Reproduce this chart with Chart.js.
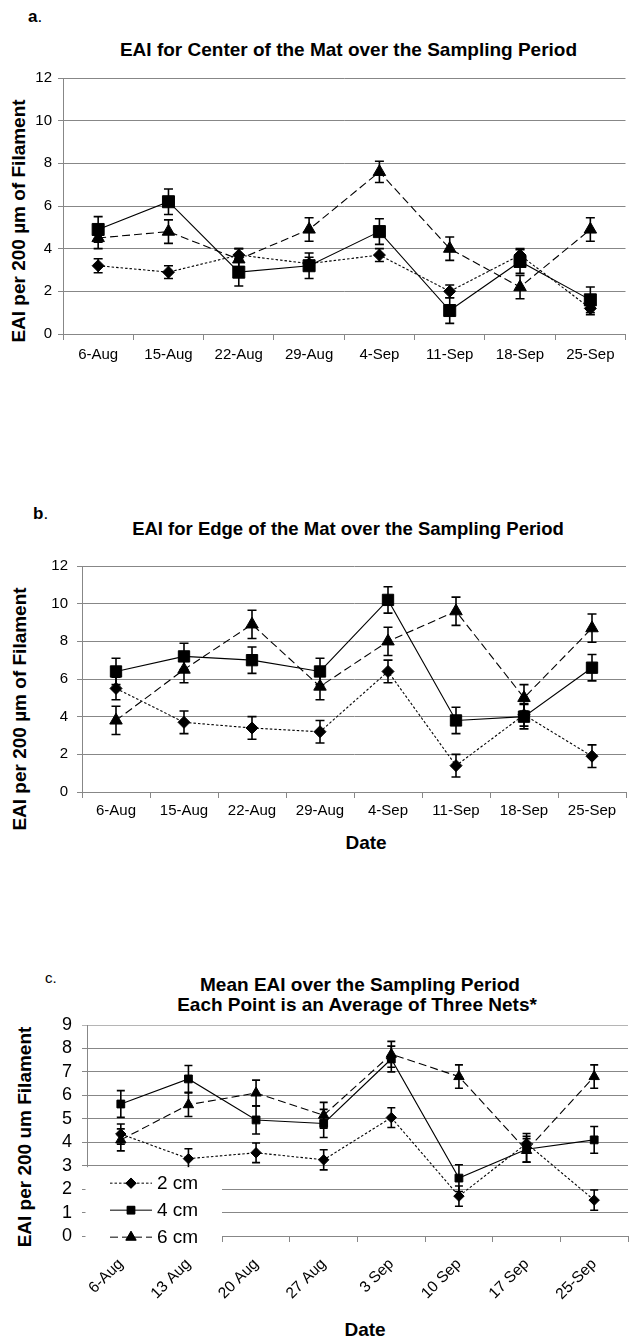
<!DOCTYPE html>
<html><head><meta charset="utf-8">
<script src="https://cdn.jsdelivr.net/npm/chart.js@4.4.1/dist/chart.umd.min.js"></script>
<style>
html,body{margin:0;padding:0;background:#fff;}
body{width:635px;height:1339px;position:relative;overflow:hidden;font-family:"Liberation Sans",Arial,sans-serif;color:#000;}
canvas{position:absolute;left:0;}
.t{position:absolute;white-space:nowrap;line-height:1;transform:translate(-50%,-50%);}
.lbl{position:absolute;white-space:nowrap;line-height:1;transform:translateY(-50%);}
.b{font-weight:bold;}
.yt{position:absolute;white-space:nowrap;line-height:1;font-weight:bold;font-size:19px;transform:translate(-50%,-50%) rotate(-90deg);}
</style></head>
<body>
<div class="lbl b" style="left:28px;top:15.5px;font-size:17px;">a<span style="font-weight:normal">.</span></div>
<div class="t b" style="left:348.5px;top:48.5px;font-size:19px;">EAI for Center of the Mat over the Sampling Period</div>
<div class="yt" style="left:17.5px;top:221px;">EAI per 200 µm of Filament</div>
<canvas id="chartA" width="635" height="380" style="top:0px"></canvas>

<div class="lbl b" style="left:33px;top:513px;font-size:17px;">b<span style="font-weight:normal">.</span></div>
<div class="t b" style="left:348px;top:528.5px;font-size:18.5px;">EAI for Edge of the Mat over the Sampling Period</div>
<div class="yt" style="left:19px;top:709px;">EAI per 200 µm of Filament</div>
<div class="t b" style="left:366px;top:842px;font-size:19px;">Date</div>
<canvas id="chartB" width="635" height="380" style="top:480px"></canvas>

<div class="lbl" style="left:45px;top:977px;font-size:15px;">c.</div>
<div class="t b" style="left:360px;top:984px;font-size:19px;">Mean EAI over the Sampling Period</div>
<div class="t b" style="left:357px;top:1003.5px;font-size:19px;">Each Point is an Average of Three Nets*</div>
<div class="yt" style="left:23.5px;top:1137px;">EAI per 200 um Filament</div>
<div class="t b" style="left:365px;top:1328.5px;font-size:19px;">Date</div>
<canvas id="chartC" width="635" height="379" style="top:960px"></canvas>

<script>
// ---------------- DATA ----------------
const datesAB = ['6-Aug','15-Aug','22-Aug','29-Aug','4-Sep','11-Sep','18-Sep','25-Sep'];
const datesC  = ['6-Aug','13 Aug','20 Aug','27 Aug','3 Sep','10 Sep','17 Sep','25-Sep'];
const seriesNames = ['2 cm','4 cm','6 cm'];

// a. Center of the mat
const center2cm    = [3.2, 2.9, 3.7, 3.3, 3.7, 2.0, 3.7, 1.2];
const center2cmErr = [0.33, 0.3, 0.3, 0.3, 0.3, 0.3, 0.3, 0.3];
const center4cm    = [4.9, 6.2, 2.9, 3.2, 4.8, 1.1, 3.4, 1.6];
const center4cmErr = [0.6, 0.6, 0.65, 0.6, 0.6, 0.6, 0.55, 0.6];
const center6cm    = [4.5, 4.8, 3.5, 4.9, 7.6, 4.0, 2.2, 4.9];
const center6cmErr = [0.5, 0.55, 0.5, 0.55, 0.5, 0.55, 0.55, 0.55];

// b. Edge of the mat
const edge2cm    = [5.5, 3.7, 3.4, 3.2, 6.4, 1.4, 4.1, 1.9];
const edge2cmErr = [0.6, 0.6, 0.6, 0.6, 0.6, 0.6, 0.6, 0.6];
const edge4cm    = [6.4, 7.2, 7.0, 6.4, 10.2, 3.8, 4.0, 6.6];
const edge4cmErr = [0.7, 0.7, 0.7, 0.7, 0.7, 0.7, 0.65, 0.7];
const edge6cm    = [3.8, 6.5, 8.9, 5.6, 8.0, 9.6, 5.0, 8.7];
const edge6cmErr = [0.75, 0.7, 0.75, 0.7, 0.75, 0.75, 0.7, 0.75];

// c. Mean of three nets
const mean2cm    = [4.35, 3.3, 3.55, 3.25, 5.05, 1.7, 3.95, 1.53];
const mean2cmErr = [0.43, 0.42, 0.42, 0.43, 0.42, 0.43, 0.42, 0.43];
const mean4cm    = [5.63, 6.7, 4.95, 4.8, 7.55, 2.47, 3.7, 4.1];
const mean4cmErr = [0.57, 0.57, 0.6, 0.6, 0.55, 0.57, 0.55, 0.57];
const mean6cm    = [4.1, 5.6, 6.1, 5.15, 7.75, 6.8, 3.65, 6.8];
const mean6cmErr = [0.47, 0.5, 0.55, 0.55, 0.55, 0.5, 0.5, 0.5];

const yMaxAB = 12, yStepAB = 2;
const yMaxC = 9, yStepC = 1;

// ---------------- STYLE ----------------
Chart.defaults.font.family = '"Liberation Sans", Arial, sans-serif';
Chart.defaults.color = '#000';
const GRID = '#878787';
const lineStyles = [
  {pointStyle:'rectRot', borderDash:[2.5,2]},
  {pointStyle:'rect', borderDash:[]},
  {pointStyle:'triangle', borderDash:[8,4]}
];

const errorBars = {
  id: 'errorBars',
  beforeDatasetsDraw(chart, args, opts) {
    const ctx = chart.ctx, ys = chart.scales.y;
    ctx.save();
    ctx.strokeStyle = '#000';
    ctx.lineWidth = opts.width || 1.6;
    const cap = opts.cap || 4.5;
    chart.data.datasets.forEach((ds, i) => {
      const meta = chart.getDatasetMeta(i);
      (ds.errors || []).forEach((e, j) => {
        const p = meta.data[j];
        const v = ds.data[j];
        const y1 = ys.getPixelForValue(v - e), y2 = ys.getPixelForValue(v + e);
        ctx.beginPath();
        ctx.moveTo(p.x, y1); ctx.lineTo(p.x, y2);
        ctx.moveTo(p.x - cap, y1); ctx.lineTo(p.x + cap, y1);
        ctx.moveTo(p.x - cap, y2); ctx.lineTo(p.x + cap, y2);
        ctx.stroke();
      });
    });
    ctx.restore();
  }
};

const insideLegend = {
  id: 'insideLegend',
  afterDraw(chart, args, opts) {
    if (!opts || !opts.display) return;
    const {ctx, chartArea, scales} = chart;
    const ys = scales.y;
    const top = ys.getPixelForValue(opts.fromValue) + 1.5;
    ctx.save();
    ctx.fillStyle = '#fff';
    ctx.fillRect(chartArea.left - 1.5, top, opts.boxWidth, chartArea.bottom + 8 - top);
    ctx.font = opts.fontSize + 'px "Liberation Sans", Arial, sans-serif';
    ctx.textBaseline = 'middle';
    ctx.textAlign = 'left';
    chart.data.datasets.forEach((ds, i) => {
      const cy = top + opts.firstRow + i * opts.rowStep;
      const x0 = chartArea.left + opts.lineStart, x1 = chartArea.left + opts.lineEnd;
      ctx.strokeStyle = '#000'; ctx.lineWidth = 1;
      ctx.setLineDash(ds.borderDash || []);
      ctx.beginPath(); ctx.moveTo(x0, cy); ctx.lineTo(x1, cy); ctx.stroke();
      ctx.setLineDash([]);
      ctx.fillStyle = '#000';
      Chart.helpers.drawPoint(ctx, {pointStyle: ds.pointStyle, radius: ds.pointRadius, borderWidth: 1}, (x0 + x1) / 2, cy);
      ctx.fill();
      ctx.fillText(ds.label, x1 + opts.textGap, cy + 1);
    });
    ctx.restore();
  }
};

function buildChart(id, o) {
  const datasets = o.series.map((vals, i) => ({
    label: seriesNames[i],
    data: vals,
    errors: o.errors[i],
    borderColor: '#000',
    backgroundColor: '#000',
    borderWidth: 1.1,
    borderDash: lineStyles[i].borderDash,
    pointStyle: lineStyles[i].pointStyle,
    pointRadius: o.radii[i],
    pointHoverRadius: o.radii[i],
    pointBackgroundColor: '#000',
    pointBorderColor: '#000',
    pointBorderWidth: 1,
    tension: 0,
    fill: false
  }));
  return new Chart(document.getElementById(id), {
    type: 'line',
    data: {labels: o.labels, datasets},
    options: {
      responsive: false,
      animation: false,
      events: [],
      layout: {padding: {top: o.top, left: 0, right: 0, bottom: 0}},
      plugins: {
        legend: {display: false},
        title: {display: false},
        tooltip: {enabled: false},
        errorBars: {cap: o.cap, width: 1.6},
        insideLegend: o.legend || {display: false}
      },
      scales: {
        x: {
          type: 'category',
          offset: true,
          grid: {offset: true, drawOnChartArea: false, drawTicks: true, tickLength: 6, color: GRID},
          border: {display: true, color: GRID, width: 1},
          ticks: {
            autoSkip: false,
            font: {size: o.xFont},
            padding: o.xPad,
            maxRotation: o.rot, minRotation: o.rot,
            color: '#000'
          },
          afterFit(s) { s.height = o.xHeight; }
        },
        y: {
          min: 0, max: o.yMax,
          ticks: {stepSize: o.yStep, autoSkip: false, font: {size: o.yFont}, padding: o.yPad, color: '#000'},
          grid: {color: (c) => (o.lightTop && c.tick && c.tick.value === o.yMax) ? '#b5b5b5' : GRID, tickLength: 5, lineWidth: 1},
          border: {display: true, color: GRID, width: 1},
          afterFit(s) { s.width = o.left; }
        }
      }
    },
    plugins: [errorBars, insideLegend]
  });
}

buildChart('chartA', {
  labels: datesAB,
  series: [center2cm, center4cm, center6cm],
  errors: [center2cmErr, center4cmErr, center6cmErr],
  radii: [6, 8.5, 7.2],
  cap: 4.5,
  top: 78, left: 63, xHeight: 46,
  yMax: yMaxAB, yStep: yStepAB,
  xFont: 15, yFont: 15, xPad: 5.5, yPad: 6, rot: 0
});

buildChart('chartB', {
  labels: datesAB,
  series: [edge2cm, edge4cm, edge6cm],
  errors: [edge2cmErr, edge4cmErr, edge6cmErr],
  radii: [6, 8, 7.2],
  cap: 4.5,
  top: 86, left: 82, xHeight: 68,
  yMax: yMaxAB, yStep: yStepAB,
  xFont: 15, yFont: 15, xPad: 3.5, yPad: 9, rot: 0
});

buildChart('chartC', {
  labels: datesC,
  series: [mean2cm, mean4cm, mean6cm],
  errors: [mean2cmErr, mean4cmErr, mean6cmErr],
  radii: [5.2, 5.5, 6],
  cap: 4,
  top: 65, left: 87, xHeight: 103,
  yMax: yMaxC, yStep: yStepC, lightTop: true,
  xFont: 15.5, yFont: 18, xPad: 13, yPad: 10, rot: 45,
  legend: {display: true, fromValue: 3, boxWidth: 136.5, firstRow: 16, rowStep: 27,
           lineStart: 23, lineEnd: 65, textGap: 5, fontSize: 19}
});
</script>
</body></html>
